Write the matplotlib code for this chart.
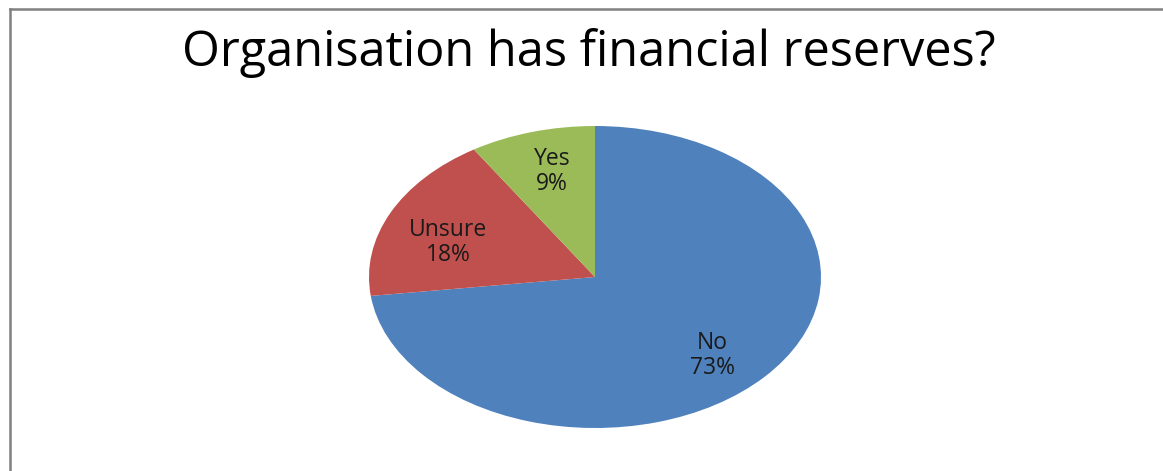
import matplotlib
matplotlib.use('Agg')
import matplotlib.pyplot as plt
from matplotlib.lines import Line2D

# reserves survey answers
labels = ['No', 'Unsure', 'Yes']
shares = [73, 18, 9]
colors = ['#4F81BD', '#C0504D', '#9BBB59']
# where each data label sits inside its slice (pie units)
label_xy = [(0.52, -0.52), (-0.65, 0.23), (-0.19, 0.70)]

W, H = 1163, 471
fig = plt.figure(figsize=(W / 100, H / 100), dpi=100)
fig.patch.set_facecolor('white')

# the pie is drawn squashed, so the axes box is wider than tall
ax = fig.add_axes([369 / W, (H - 428) / H, 452 / W, 302 / H])
wedges, _ = ax.pie(shares, colors=colors, startangle=90, counterclock=False,
                   radius=1.0, wedgeprops=dict(linewidth=0))
ax.set_aspect('auto')
ax.set_xlim(-1, 1)
ax.set_ylim(-1, 1)
ax.axis('off')

for name, val, (x, y) in zip(labels, shares, label_xy):
    ax.text(x, y, '%s\n%d%%' % (name, val), ha='center', va='center',
            fontsize=16.5, color='#1a1a1a', family='Open Sans', linespacing=1.05)

fig.text(589 / W, 1 - 53 / H, 'Organisation has financial reserves?',
         ha='center', va='center', fontsize=35, family='Open Sans', color='black')

# chart frame, only top and left edges are visible
fig.add_artist(Line2D([10 / W, 1], [1 - 9 / H, 1 - 9 / H], color='#808080', lw=1.8))
fig.add_artist(Line2D([10 / W, 10 / W], [0, 1 - 9 / H], color='#808080', lw=1.8))

fig.savefig('out.png', dpi=100, facecolor='white')
